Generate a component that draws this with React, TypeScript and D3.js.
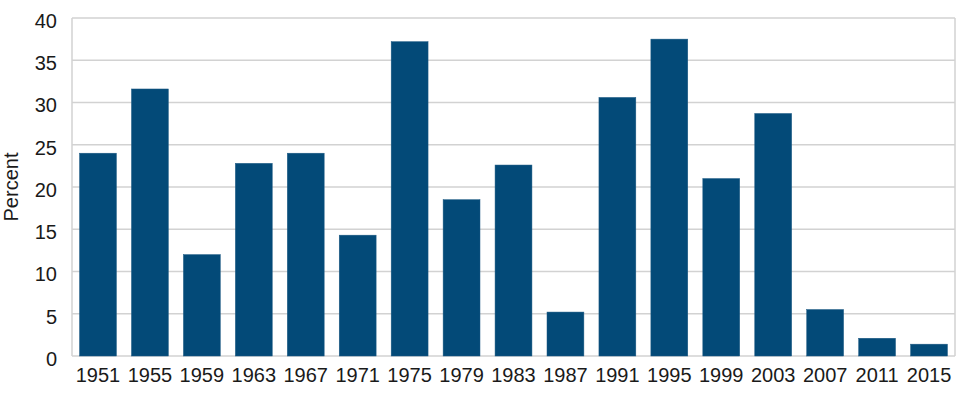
import { useMemo } from "react";
import { scaleBand, scaleLinear, range } from "d3";

const years = [
  "1951", "1955", "1959", "1963", "1967", "1971", "1975", "1979", "1983",
  "1987", "1991", "1995", "1999", "2003", "2007", "2011", "2015",
];
const percent = [
  24.0, 31.6, 12.0, 22.8, 24.0, 14.3, 37.2, 18.5, 22.6,
  5.2, 30.6, 37.5, 21.0, 28.7, 5.5, 2.1, 1.4,
];
const yTicks = range(0, 45, 5);

const totalWidth = 960;
const totalHeight = 396;
const left = 72;
const right = 955;
const top = 18;
const bottom = 356;
const font = "'Liberation Sans', Arial, Helvetica, sans-serif";
const barColor = "#034a78";
const gridColor = "#d2d2d2";

export default function App() {
  const { xScale, yScale } = useMemo(() => {
    const xScale = scaleBand<string>()
      .domain(years)
      .range([left, right])
      .paddingInner(0.29)
      .paddingOuter(0.145);
    const yScale = scaleLinear().domain([0, 40]).range([bottom, top]);
    return { xScale, yScale };
  }, []);

  return (
    <svg
      width={totalWidth}
      height={totalHeight}
      viewBox={`0 0 ${totalWidth} ${totalHeight}`}
      style={{ position: "absolute", left: 0, top: 0, background: "white" }}
    >
      {/* gridlines */}
      {yTicks.map((t) => (
        <line
          key={t}
          x1={left}
          x2={right}
          y1={yScale(t)}
          y2={yScale(t)}
          stroke={gridColor}
          strokeWidth={1.5}
        />
      ))}
      {/* frame */}
      <line x1={left} x2={left} y1={top} y2={bottom} stroke={gridColor} strokeWidth={1.5} />
      <line x1={right} x2={right} y1={top} y2={bottom} stroke={gridColor} strokeWidth={1.5} />

      {years.map((y, i) => (
        <rect
          key={y}
          x={xScale(y)}
          y={yScale(percent[i])}
          width={xScale.bandwidth()}
          height={yScale(0) - yScale(percent[i])}
          fill={barColor}
          stroke="#1d5a84"
          strokeWidth={0.5}
        />
      ))}

      {/* y tick labels */}
      {yTicks.map((t) => (
        <text
          key={t}
          x={57}
          y={yScale(t) + 4.5}
          textAnchor="end"
          dominantBaseline="middle"
          fontFamily={font}
          fontSize={20}
          fill="#1a1a1a"
        >
          {t}
        </text>
      ))}

      {/* x tick labels */}
      {years.map((y) => (
        <text
          key={y}
          x={(xScale(y) ?? 0) + xScale.bandwidth() / 2}
          y={381.5}
          textAnchor="middle"
          fontFamily={font}
          fontSize={20}
          fill="#1a1a1a"
        >
          {y}
        </text>
      ))}

      <text
        transform={`translate(18, ${(top + bottom) / 2}) rotate(-90)`}
        textAnchor="middle"
        fontFamily={font}
        fontSize={20}
        fill="#1a1a1a"
      >
        Percent
      </text>
    </svg>
  );
}
